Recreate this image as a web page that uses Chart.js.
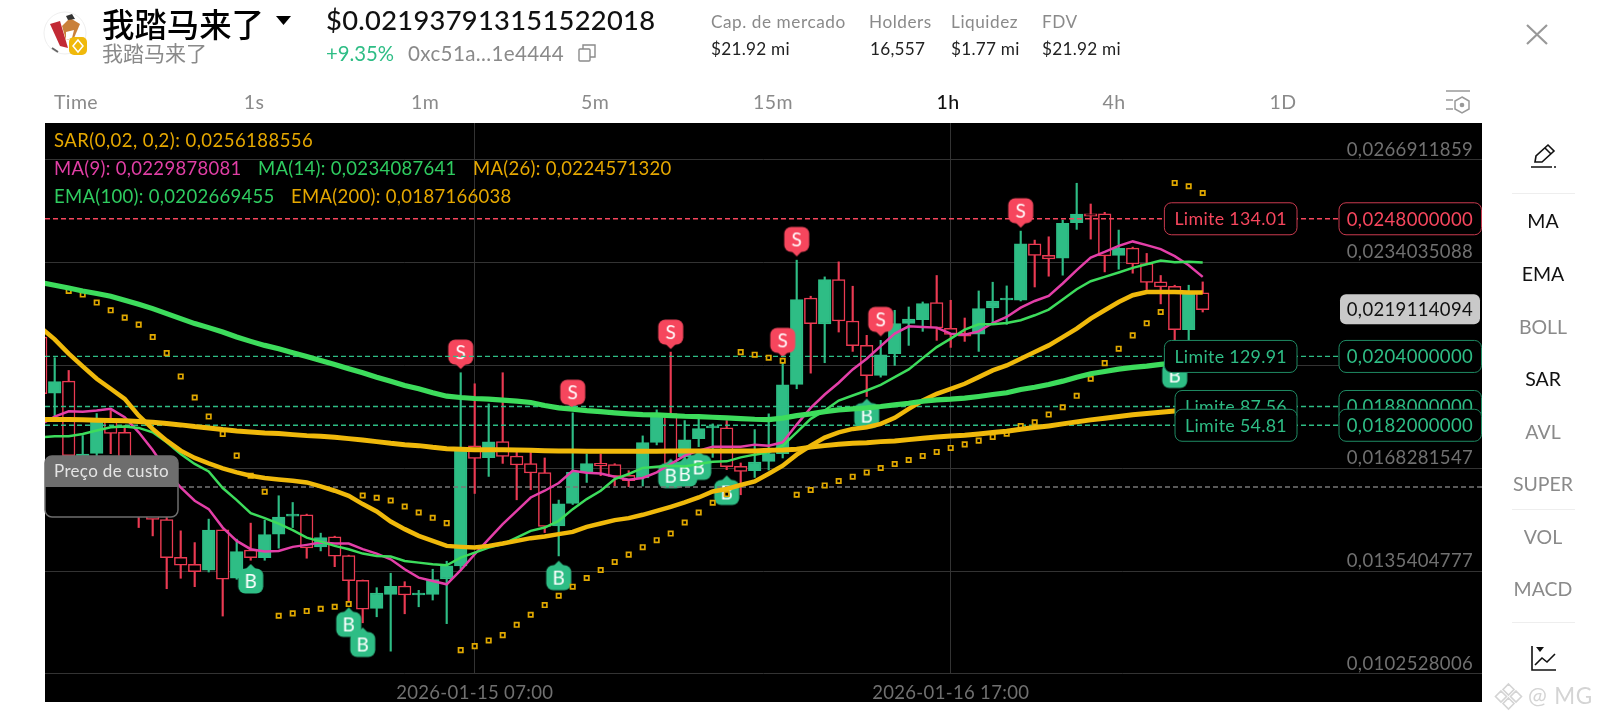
<!DOCTYPE html>
<html>
<head>
<meta charset="utf-8">
<title>我踏马来了</title>
<script src="https://cdn.jsdelivr.net/npm/chart.js@4/dist/chart.umd.min.js"></script>
<style>
	html, body { margin: 0; padding: 0; background: #fff; font-family: Lato, sans-serif; }
	#page { position: relative; width: 1600px; height: 720px; overflow: hidden; }
	#plot-bg { position: absolute; left: 45px; top: 123px; width: 1437px; height: 579px; background: #000; }
	#main-chart { position: absolute; left: 0; top: 0; }
	.t { position: absolute; white-space: nowrap; line-height: 1; transform: translateY(-50%); }
	.c { transform: translate(-50%, -50%); }
	.tab { font-size: 19.5px; color: #8a8a8a; letter-spacing: .4px; }
	.side { font-size: 19.5px; color: #8a8a8a; left: 1543px; }
	.on { color: #111; }
	.stat-l { font-size: 17.2px; color: #8a8a8a; letter-spacing: .55px; }
	.stat-v { font-size: 17.2px; color: #222; letter-spacing: .25px; }
	.leg { font-size: 18.5px; letter-spacing: .3px; }
	.rule { position: absolute; left: 1512px; width: 63px; height: 1px; background: #eee; }
	svg { position: absolute; }
</style>
</head>
<body>
<div id="page">
	<div id="plot-bg"></div>
	<canvas id="main-chart" width="1600" height="720"></canvas>

	<svg style="left:42px;top:10px" width="48" height="48" viewBox="0 0 48 48">
		<circle cx="23" cy="23" r="21" fill="#fff" stroke="#eee"/>
		<path d="M8 14 L18 11 L26 38 L18 36 Z" fill="#c22a35"/>
		<path d="M20 16 L28 8 L38 14 L32 28 L24 30 Z" fill="#c9803a"/>
		<path d="M24 22 L32 20 L30 28 L24 30 Z" fill="#fff"/>
		<path d="M24 6 L30 4 L33 9 L26 10 Z" fill="#333"/>
		<path d="M10 38 L16 42 M34 34 L40 28" stroke="#666" stroke-width="2"/>
		<rect x="27" y="27" width="18" height="18" rx="5" fill="#f0b90b"/>
		<path d="M36 30 L41 36 L36 42 L31 36 Z" fill="none" stroke="#fff" stroke-width="1.5"/>
	</svg>
	<div class="t" style="left:102px;top:22px;font:500 32.4px 'Noto Sans CJK SC';color:#000">我踏马来了</div>
	<div class="t" style="left:102px;top:52px;font:400 21px 'Noto Sans CJK SC';color:#8a8a8a">我踏马来了</div>
	<svg style="left:276px;top:15px" width="16" height="11"><path d="M0 1 H15 L7.5 10 Z" fill="#000"/></svg>

	<div class="t" style="left:326px;top:20px;font-size:27.3px;font-weight:500;color:#111;letter-spacing:.3px">$0.021937913151522018</div>
	<div class="t" style="left:326px;top:53px;font-size:20.3px;color:#2ebd85">+9.35%</div>
	<div class="t" style="left:408px;top:53px;font-size:20.6px;color:#8a8a8a;letter-spacing:.35px">0xc51a...1e4444</div>
	<svg style="left:578px;top:44px" width="18" height="18" fill="none" stroke="#8a8a8a" stroke-width="1.4">
		<rect x="1" y="5" width="11" height="12" rx="1"/><path d="M5 5 V1 H17 V13 H12"/>
	</svg>

	<div class="t stat-l" style="left:711px;top:22px">Cap. de mercado</div>
	<div class="t stat-v" style="left:711px;top:49px">$21.92 mi</div>
	<div class="t stat-l" style="left:869px;top:22px">Holders</div>
	<div class="t stat-v" style="left:870px;top:49px">16,557</div>
	<div class="t stat-l" style="left:951px;top:22px">Liquidez</div>
	<div class="t stat-v" style="left:951px;top:49px">$1.77 mi</div>
	<div class="t stat-l" style="left:1042px;top:22px">FDV</div>
	<div class="t stat-v" style="left:1042px;top:49px">$21.92 mi</div>

	<div class="t c tab" style="left:76px;top:102px">Time</div>
	<div class="t c tab" style="left:254px;top:102px">1s</div>
	<div class="t c tab" style="left:425px;top:102px">1m</div>
	<div class="t c tab" style="left:595px;top:102px">5m</div>
	<div class="t c tab" style="left:773px;top:102px">15m</div>
	<div class="t c tab on" style="left:948px;top:102px;font-weight:500">1h</div>
	<div class="t c tab" style="left:1114px;top:102px">4h</div>
	<div class="t c tab" style="left:1283px;top:102px">1D</div>
	<svg style="left:1445px;top:89px" width="26" height="25" fill="none" stroke="#999" stroke-width="1.5">
		<path d="M1 2 H25 M1 11 H8 M1 20 H8"/>
		<path d="M17 8 L24 12 V20 L17 24 L10 20 V12 Z"/><circle cx="17" cy="16" r="1.6" fill="#999"/>
	</svg>
	<svg style="left:1525px;top:23px" width="24" height="23" stroke="#999" stroke-width="2.2"><path d="M2 2 L22 21 M22 2 L2 21"/></svg>

	<div class="t leg" style="left:54px;top:140px;color:#e6a800;letter-spacing:.46px">SAR(0,02, 0,2): 0,0256188556</div>
	<div class="t leg" style="left:54px;top:168px;color:#e13fa5">MA(9): 0,0229878081</div>
	<div class="t leg" style="left:258px;top:168px;color:#2fcc60">MA(14): 0,0234087641</div>
	<div class="t leg" style="left:473px;top:168px;color:#e6a800">MA(26): 0,0224571320</div>
	<div class="t leg" style="left:54px;top:196px;color:#2fcc60">EMA(100): 0,0202669455</div>
	<div class="t leg" style="left:291px;top:196px;color:#e6a800">EMA(200): 0,0187166038</div>

	<svg style="left:1530px;top:143px" width="27" height="27" fill="none" stroke="#111" stroke-width="1.6">
		<path d="M5 19 L6 13 L18 2 L24 8 L12 19 Z M15 5 L21 11"/><path d="M1 24 H22 M24 24 H26"/>
	</svg>
	<div class="rule" style="top:193px"></div>
	<div class="t c side on" style="top:221px">MA</div>
	<div class="t c side on" style="top:274px">EMA</div>
	<div class="t c side" style="top:327px">BOLL</div>
	<div class="t c side on" style="top:379px">SAR</div>
	<div class="t c side" style="top:432px">AVL</div>
	<div class="t c side" style="top:484px">SUPER</div>
	<div class="rule" style="top:509px"></div>
	<div class="t c side" style="top:537px">VOL</div>
	<div class="t c side" style="top:589px">MACD</div>
	<div class="rule" style="top:622px"></div>
	<svg style="left:1530px;top:645px" width="27" height="27" fill="none" stroke="#111" stroke-width="1.6">
		<path d="M2 1 V25 H26"/><path d="M5 20 L12 13 L17 17 L25 9"/><path d="M6 2 H14 L10 7 Z" fill="#111" stroke="none"/>
	</svg>

	<svg style="left:1494px;top:682px" width="29" height="29" fill="none" stroke="#d4d4d4" stroke-width="1.6">
		<path d="M14.5 2 L20 7.5 L14.5 13 L9 7.5 Z M14.5 16 L20 21.5 L14.5 27 L9 21.5 Z M7 9 L12.5 14.5 L7 20 L1.5 14.5 Z M22 9 L27.5 14.5 L22 20 L16.5 14.5 Z"/>
	</svg>
	<div class="t" style="left:1528px;top:696px;font-size:22.5px;color:#d4d4d4;letter-spacing:.8px">@ MG</div>
</div>

<script>
// hourly candles
const opens = [
	.021019,.019225,.019609,.016748,.017302,.018350,.017975,.016652,.015787,.015187,
	.013983,.013758,.013566,.014857,.013310,.014207,.013970,.014720,.015296,.015338,
	.014313,.014633,.014034,.013246,.012348,.012797,.013063,.012775,.012797,.013287,
	.013704,.017539,.017164,.017677,.017219,.016972,.016684,.014986,.015700,.016693,
	.016982,.016940,.016597,.016514,.017655,.018574,.017196,.017773,.018116,.018116,
	.016886,.016748,.017046,.017293,.019504,.022269,.021436,.022859,.021532,.020753,
	.019792,.020488,.021459,.021577,.022122,.021298,.021148,.021115,.021949,.022205,
	.022195,.023999,.023628,.023540,.024672,.024961,.024961,.023628,.023862,.023371,
	.022782,.022644,.021256,.022429];
const closes = [
	.019206,.019600,.017229,.017283,.018296,.017943,.016748,.015690,.015187,.013970,
	.013726,.013521,.014847,.013278,.014162,.013970,.014707,.015264,.015315,.014280,
	.014610,.014014,.013233,.012326,.012838,.013053,.012775,.012797,.013265,.013704,
	.017495,.017142,.017668,.017206,.016930,.016674,.014963,.015690,.016693,.016972,
	.016899,.016565,.016428,.017645,.018510,.016972,.017732,.018094,.018135,.016876,
	.016725,.017027,.017293,.019494,.022218,.021449,.022859,.021532,.020744,.019782,
	.020455,.021449,.021596,.022090,.021308,.021106,.021051,.021929,.022173,.022237,
	.023999,.023628,.023519,.024653,.024951,.024887,.023615,.023852,.023359,.022763,
	.022622,.021256,.022461,.021897];
const highs = [
	.021390,.020360,.019952,.017870,.018574,.018670,.018190,.016908,.016107,.015466,
	.014825,.014450,.015200,.014857,.014559,.015072,.015168,.015947,.015732,.015360,
	.014752,.014655,.014047,.013255,.013008,.013470,.013200,.012925,.013598,.013854,
	.019879,.019526,.018885,.019879,.017453,.017334,.017155,.015809,.018597,.017283,
	.017283,.016972,.016748,.017860,.018693,.020539,.018350,.018405,.018244,.018350,
	.016995,.018062,.018565,.020273,.023477,.022324,.022942,.023423,.022644,.021074,
	.020914,.021875,.021981,.022141,.022987,.022195,.021628,.022493,.022772,.022654,
	.024406,.024118,.024224,.024759,.025935,.025272,.025006,.024439,.023894,.023692,
	.022987,.022676,.022676,.022782];
const lows = [
	.018670,.018510,.016908,.016428,.016748,.017293,.016428,.014931,.014665,.012976,
	.013310,.013041,.013510,.012102,.013278,.013886,.013886,.014271,.014930,.013950,
	.014184,.013680,.012422,.011887,.012079,.010980,.012175,.012399,.012614,.011860,
	.013617,.016020,.016565,.016982,.015818,.016139,.014770,.014024,.015668,.016373,
	.016588,.016267,.016235,.016258,.017572,.016748,.016876,.017517,.017174,.016780,
	.015979,.016533,.016770,.017155,.019366,.019866,.020199,.021180,.020561,.019119,
	.019738,.020113,.020753,.021202,.020914,.020689,.020881,.020561,.021449,.021426,
	.022173,.022620,.022964,.022997,.024461,.024150,.023102,.023188,.023061,.022538,
	.022080,.020914,.020914,.021820];

const ma9 = [
	.018222,.018478,.018648,.018629,.018670,.018725,.018456,.017975,.017411,.016748,
	.016213,.015787,.015520,.014931,.014505,.014239,.014162,.014184,.014313,.014377,
	.014450,.014419,.014419,.014239,.014098,.013918,.013598,.013329,.013223,.013117,
	.013566,.014078,.014559,.015040,.015466,.015892,.016107,.016354,.016748,.016684,
	.016661,.016556,.016459,.016514,.016693,.016963,.017229,.017389,.017517,.017517,
	.017517,.017581,.017549,.017655,.018222,.018757,.019183,.019558,.019984,.020327,
	.020731,.021128,.021362,.021340,.021321,.021128,.021096,.021202,.021468,.021660,
	.021961,.022173,.022333,.022731,.023157,.023563,.023743,.023936,.024076,.023958,
	.023830,.023605,.023317,.022942];
const ma14 = [
	.017815,.017847,.017847,.017924,.018030,.018135,.018158,.018116,.017975,.017655,
	.017283,.016963,.016725,.016193,.015809,.015392,.015232,.015059,.014848,.014610,
	.014482,.014345,.014239,.014098,.014024,.014002,.013864,.013810,.013758,.013726,
	.013970,.014130,.014290,.014399,.014610,.014825,.014931,.015146,.015520,.015841,
	.016107,.016482,.016642,.016835,.016876,.016908,.016886,.016963,.017036,.017046,
	.017174,.017261,.017334,.017549,.017975,.018405,.018670,.018991,.019151,.019311,
	.019494,.019738,.019984,.020346,.020699,.020968,.021256,.021426,.021426,.021468,
	.021555,.021715,.021897,.022218,.022548,.022804,.022942,.023083,.023231,.023349,
	.023468,.023413,.023423,.023403];
const ma26 = [
	.021321,.020946,.020488,.020081,.019686,.019366,.019045,.018510,.018084,.017709,
	.017389,.017155,.016982,.016822,.016693,.016588,.016514,.016469,.016428,.016373,
	.016245,.016107,.015947,.015680,.015443,.015123,.014880,.014665,.014505,.014345,
	.014313,.014290,.014345,.014419,.014505,.014592,.014643,.014720,.014793,.014954,
	.015059,.015168,.015232,.015338,.015466,.015594,.015732,.015892,.016085,.016162,
	.016290,.016405,.016652,.016908,.017261,.017549,.017805,.017975,.018084,.018135,
	.018244,.018437,.018725,.018991,.019206,.019366,.019526,.019738,.019952,.020113,
	.020327,.020539,.020753,.021019,.021288,.021609,.021875,.022141,.022356,.022461,
	.022461,.022461,.022442,.022442];
const ema100 = [
	.022763,.022676,.022589,.022493,.022410,.022324,.022195,.022067,.021929,.021769,
	.021609,.021449,.021321,.021179,.021019,.020881,.020753,.020648,.020520,.020401,
	.020273,.020145,.020007,.019879,.019738,.019610,.019472,.019366,.019238,.019129,
	.019087,.019055,.019033,.019001,.018969,.018927,.018831,.018757,.018712,.018670,
	.018638,.018597,.018565,.018542,.018533,.018510,.018488,.018478,.018456,.018437,
	.018414,.018392,.018382,.018430,.018510,.018565,.018638,.018693,.018725,.018757,
	.018799,.018853,.018905,.018969,.019014,.019033,.019065,.019119,.019183,.019238,
	.019343,.019417,.019504,.019610,.019738,.019846,.019920,.019994,.020048,.020090,
	.020145,.020186,.020225,.020257];
const ema200 = [
	.018382,.018382,.018382,.018373,.018360,.018350,.018341,.018318,.018296,.018254,
	.018212,.018158,.018116,.018062,.018020,.017988,.017956,.017934,.017901,.017869,
	.017847,.017815,.017773,.017732,.017677,.017623,.017581,.017549,.017495,.017453,
	.017437,.017421,.017421,.017421,.017411,.017398,.017389,.017379,.017379,.017373,
	.017370,.017367,.017367,.017367,.017370,.017376,.017376,.017376,.017376,.017376,
	.017379,.017379,.017398,.017411,.017437,.017501,.017549,.017590,.017623,.017645,
	.017677,.017700,.017741,.017783,.017828,.017860,.017879,.017924,.017966,.018007,
	.018072,.018126,.018180,.018244,.018308,.018373,.018424,.018478,.018533,.018574,
	.018617,.018655,.018683,.018717];
const sar = [
	null,null,.022493,.022378,.022122,.021875,.021641,.021417,.021019,.020507,
	.019760,.019087,.018478,.017924,.017229,.016588,.016075,.012111,.012188,.012262,
	.012336,.012400,.012486,.015956,.015883,.015796,.015604,.015412,.015242,.015072,
	.011012,.011140,.011323,.011493,.011823,.012143,.012454,.012752,.013041,.013319,
	.013575,.013832,.014066,.014303,.014527,.014739,.015092,.015412,.015723,.016001,
	.020539,.020455,.020359,.020263,.015979,.016130,.016277,.016418,.016556,.016693,
	.016835,.016963,.017090,.017219,.017347,.017475,.017590,.017709,.017828,.017934,
	.018174,.018296,.018542,.018776,.019142,.019686,.020186,.020648,.021074,.021459,
	.021820,.025945,.025839,.025624];

// buy and sell flags
const buyCandles = [15,22,23,37,45,46,47,49,59,81];
const buyPrices = [.013223,.011835,.011194,.013329,.016588,.016642,.016854,.016053,.018510,.019792];
const sellCandles = [30,38,45,53,54,60,70];
const sellPrices = [.020539,.019257,.021179,.020914,.024141,.021586,.025057];

// order lines
const limitPrices = [.0248,.0204,.0188,.0182];
const limitLabels = ['Limite 134.01','Limite 129.91','Limite 87.56','Limite 54.81'];
const limitKinds = ['sell','buy','buy','buy'];
const costPrice = .016227;
const lastPrice = .0219114094;

const priceTicks = [.0266911859,.0234035088,.0201158318,.0168281547,.0135404777,.0102528006];
const timeTicks = [31,65];
const timeLabels = ['2026-01-15 07:00','2026-01-16 17:00'];

const GREEN = '#2ebd85', RED = '#ea3a52', YELLOW = '#f0b90b';
const xMin = 0.307, xMax = 102.95, yMin = 0.01025, yMax = 0.0278611;

const candleIdx = opens.map((v, i) => i);
const pairs = (arr) => arr.map((v, i) => ({x: i, y: v}));
const isUp = (i) => closes[i] > opens[i];

function flagShape(color, tipUp) {
	// little flag with a tip, used as a point style
	var c = document.createElement('canvas');
	c.width = 32; c.height = 38;
	var g = c.getContext('2d');
	g.fillStyle = color;
	g.beginPath();
	g.roundRect(3.5, 6.5, 25, 25, 7);
	g.fill();
	g.beginPath();
	if (tipUp) { g.moveTo(10, 8); g.lineTo(16, 2); g.lineTo(22, 8); }
	else { g.moveTo(10, 30); g.lineTo(16, 36); g.lineTo(22, 30); }
	g.fill();
	return c;
}

function flagLetter(letter) {
	var c = document.createElement('canvas');
	c.width = 32; c.height = 38;
	var g = c.getContext('2d');
	g.fillStyle = '#fff';
	g.font = '19px Lato';
	g.textAlign = 'center';
	g.textBaseline = 'middle';
	g.fillText(letter, 16, 20);
	return c;
}

function lineSet(data, color, width, order) {
	return {type: 'line', data: pairs(data), borderColor: color, borderWidth: width, pointRadius: 0, tension: 0, order: order};
}

function limitSet(price, color, order) {
	return {type: 'line', data: [{x: xMin, y: price}, {x: xMax, y: price}], borderColor: color, borderWidth: 1.3, borderDash: [5, 3], pointRadius: 0, order: order};
}

function flagSet(candles, prices, style, order) {
	return {type: 'line', showLine: false, data: candles.map((k, i) => ({x: k, y: prices[i]})), pointStyle: style, order: order};
}

// boxes over the plot: order tags, last price and cost
const overlay = {
	id: 'overlay',
	beforeDraw(chart) {
		chart.ctx.letterSpacing = '0.33px';
	},
	afterDraw(chart) {
		const ctx = chart.ctx, y = chart.scales.y, area = chart.chartArea;
		ctx.save();
		ctx.textBaseline = 'middle';

		limitPrices.forEach(function(price, i) {
			var col = limitKinds[i] == 'sell' ? '#f6465d' : GREEN;
			var edge = limitKinds[i] == 'sell' ? '#c93a4e' : '#1f8a63';
			var py = y.getPixelForValue(price);
			ctx.font = '17.8px Lato';
			var w = ctx.measureText(limitLabels[i]).width + 20;

			ctx.fillStyle = '#000';
			ctx.strokeStyle = edge;
			ctx.lineWidth = 1;
			ctx.beginPath();
			ctx.roundRect(1297 - w, py - 16, w, 32, 7);
			ctx.fill(); ctx.stroke();
			ctx.fillStyle = col;
			ctx.textAlign = 'left';
			ctx.fillText(limitLabels[i], 1297 - w + 10, py + 1);

			ctx.font = '18.5px Lato';
			ctx.fillStyle = '#000';
			ctx.beginPath();
			ctx.roundRect(1339, py - 16, area.right - 1339 - 0.5, 32, 7);
			ctx.fill(); ctx.stroke();
			ctx.fillStyle = col;
			ctx.textAlign = 'right';
			ctx.fillText(price.toFixed(10).replace('.', ','), 1473, py + 1);
		});

		var ly = y.getPixelForValue(lastPrice);
		ctx.fillStyle = '#c9c9c9';
		ctx.beginPath();
		ctx.roundRect(1340, ly - 15, 140, 30, 6);
		ctx.fill();
		ctx.fillStyle = '#111';
		ctx.textAlign = 'right';
		ctx.fillText(lastPrice.toFixed(10).replace('.', ','), 1473, ly + 1);

		// cost box
		ctx.fillStyle = '#000';
		ctx.strokeStyle = '#6e6e6e';
		ctx.lineWidth = 1.5;
		ctx.beginPath();
		ctx.roundRect(45, 456, 133, 61, 7);
		ctx.fill(); ctx.stroke();
		ctx.fillStyle = '#6e6e6e';
		ctx.beginPath();
		ctx.roundRect(45, 456, 133, 31, [7, 7, 0, 0]);
		ctx.fill();
		ctx.fillStyle = '#e4e4e4';
		ctx.textAlign = 'left';
		ctx.font = '17px Lato';
		ctx.fillText('Preço de custo', 54, 472);
		ctx.restore();
	}
};

Chart.defaults.font.family = 'Lato';

var chart = new Chart(document.getElementById('main-chart'), {
	data: {
		datasets: [
			{type: 'bar', data: candleIdx.map(i => ({x: i, y: [lows[i], highs[i]]})), grouped: false, barThickness: 1.5,
				backgroundColor: (c) => isUp(c.dataIndex) ? GREEN : RED, order: 20},
			{type: 'bar', data: candleIdx.map(i => ({x: i, y: [opens[i], closes[i]]})), grouped: false, barThickness: 12.6, minBarLength: 2,
				backgroundColor: (c) => isUp(c.dataIndex) ? GREEN : '#000',
				borderColor: (c) => isUp(c.dataIndex) ? GREEN : RED,
				borderWidth: 1.5, borderSkipped: false, order: 19},
			flagSet(buyCandles, buyPrices, flagShape(GREEN, true), 18),
			flagSet(sellCandles, sellPrices, flagShape('#f6465d', false), 18),
			flagSet(buyCandles, buyPrices, flagLetter('B'), 17),
			flagSet(sellCandles, sellPrices, flagLetter('S'), 17),
			limitSet(costPrice, '#777', 16),
			limitSet(limitPrices[0], '#f6465d', 15),
			limitSet(limitPrices[1], GREEN, 15),
			limitSet(limitPrices[2], GREEN, 15),
			limitSet(limitPrices[3], GREEN, 15),
			{type: 'line', showLine: false, data: pairs(sar), pointStyle: 'rect', pointRadius: 3.1, pointBorderWidth: 1.7,
				pointBackgroundColor: '#000', pointBorderColor: '#e0a800', spanGaps: false, order: 14},
			lineSet(ma9, '#e33fa8', 2.5, 6),
			lineSet(ma14, '#3ddc5c', 2.5, 5),
			lineSet(ma26, YELLOW, 4.5, 4),
			lineSet(ema200, YELLOW, 5, 3),
			lineSet(ema100, '#3ddc5c', 5.2, 2)
		]
	},
	options: {
		responsive: false,
		animation: false,
		layout: {padding: {left: 45, right: 118, top: 123, bottom: 18}},
		plugins: {legend: {display: false}, tooltip: {enabled: false}},
		scales: {
			x: {
				type: 'linear', min: xMin, max: xMax, offset: false,
				afterBuildTicks(s) { s.ticks = timeTicks.map(v => ({value: v})); },
				afterFit(s) { s.height = 28; },
				grid: {color: '#333', lineWidth: 1, drawTicks: false, offset: false},
				border: {display: false},
				ticks: {
					autoSkip: false, maxRotation: 0, padding: 8, color: '#707070', font: {size: 18.5},
					callback: (v) => timeLabels[timeTicks.indexOf(v)]
				}
			},
			y: {
				type: 'linear', position: 'right', min: yMin, max: yMax,
				afterBuildTicks(s) { s.ticks = priceTicks.map(v => ({value: v})); },
				afterFit(s) { s.width = 0; },
				grid: {color: '#333', lineWidth: 1, drawTicks: false},
				border: {display: false},
				ticks: {
					mirror: true, padding: -9, labelOffset: -10, color: '#707070', font: {size: 18.5},
					callback: (v) => v.toFixed(10).replace('.', ',')
				}
			}
		}
	},
	plugins: [overlay]
});
</script>
</body>
</html>
